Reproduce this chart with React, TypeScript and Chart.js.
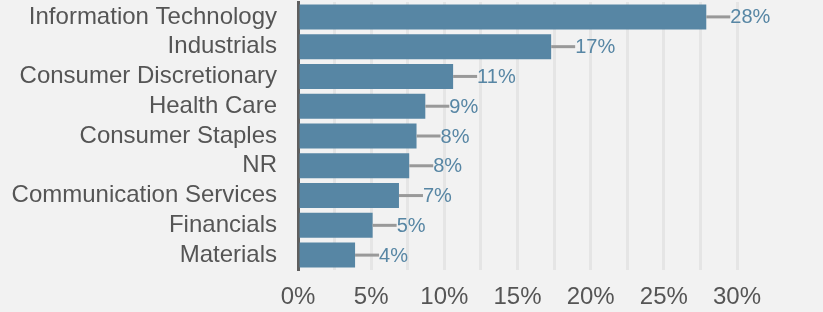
import React, { useEffect, useRef } from "react";
import { Chart, registerables } from "chart.js";

Chart.register(...registerables);

const categories = [
  "Information Technology",
  "Industrials",
  "Consumer Discretionary",
  "Health Care",
  "Consumer Staples",
  "NR",
  "Communication Services",
  "Financials",
  "Materials",
];
const values = [27.9, 17.3, 10.6, 8.7, 8.1, 7.6, 6.9, 5.1, 3.9];
const valueLabels = ["28%", "17%", "11%", "9%", "8%", "8%", "7%", "5%", "4%"];

const BAR = "#5786a4";
const FONT = "'Liberation Sans', Arial, sans-serif";

const labelPlugin = {
  id: "valueLabels",
  afterDatasetsDraw(chart: any) {
    const ctx = chart.ctx;
    const meta = chart.getDatasetMeta(0);
    ctx.save();
    meta.data.forEach((el: any, i: number) => {
      const x = el.x;
      const y = el.y;
      ctx.strokeStyle = "#999999";
      ctx.lineWidth = 3;
      ctx.beginPath();
      ctx.moveTo(x, y);
      ctx.lineTo(x + 24, y);
      ctx.stroke();
      ctx.fillStyle = BAR;
      ctx.font = `20px ${FONT}`;
      ctx.textAlign = "left";
      ctx.textBaseline = "middle";
      ctx.fillText(valueLabels[i], x + 24, y + 1);
    });
    ctx.restore();
  },
};

export default function App() {
  const ref = useRef<HTMLCanvasElement>(null);
  useEffect(() => {
    if (!ref.current) return;
    const chart = new Chart(ref.current, {
      type: "bar",
      data: {
        labels: categories,
        datasets: [
          {
            data: values,
            backgroundColor: BAR,
            categoryPercentage: 1,
            barPercentage: 0.84,
          },
        ],
      },
      options: {
        indexAxis: "y",
        animation: false,
        responsive: true,
        maintainAspectRatio: false,
        layout: { padding: { left: 0, right: 86, top: 2, bottom: 0 } },
        plugins: { legend: { display: false }, tooltip: { enabled: false } },
        scales: {
          x: {
            min: 0,
            max: 30,
            afterFit: (s: any) => {
              s.height = 42;
            },
            ticks: {
              stepSize: 2.5,
              autoSkip: false,
              maxRotation: 0,
              padding: 13,
              color: "#555555",
              font: { family: FONT, size: 24 },
              callback: (v: any) => (Number(v) % 5 === 0 ? `${v}%` : ""),
            },
            grid: { color: "#e5e5e5", lineWidth: 3, drawTicks: false },
            border: { display: false },
          },
          y: {
            afterFit: (s: any) => {
              s.width = 298;
              s.paddingTop = 0;
              s.paddingBottom = 0;
            },
            ticks: {
              autoSkip: false,
              padding: 21,
              color: "#555555",
              font: { family: FONT, size: 24 },
            },
            grid: { display: false, drawTicks: false },
            border: { display: true, color: "#5f5f5f", width: 3 },
          },
        },
      },
      plugins: [labelPlugin],
    });
    return () => chart.destroy();
  }, []);
  return (
    <div
      style={{
        position: "fixed",
        left: 0,
        top: 0,
        width: 823,
        height: 312,
        background: "#f2f2f2",
      }}
    >
      <canvas ref={ref} />
    </div>
  );
}
